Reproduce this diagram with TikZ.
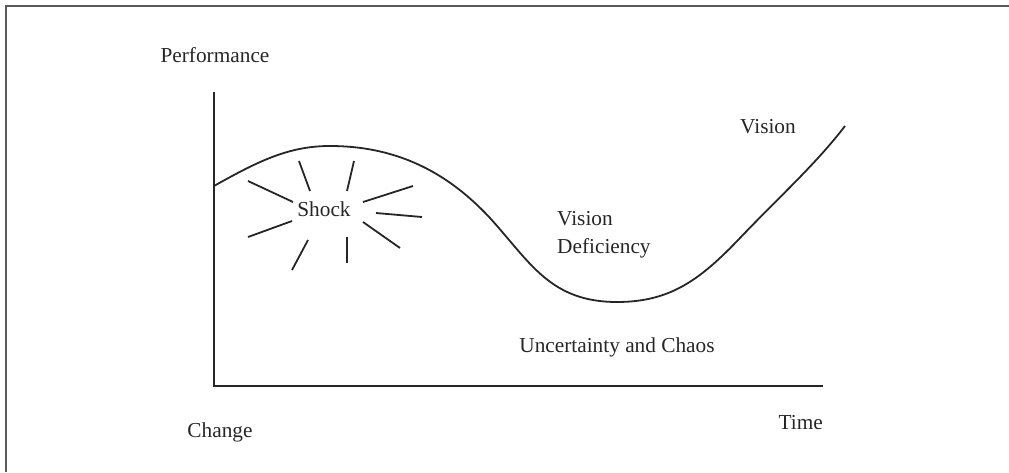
\documentclass[tikz,border=0pt]{standalone}
\usepackage{fontspec}
\setmainfont{Liberation Serif}
\usetikzlibrary{positioning}

\tikzset{
  lbl/.style={inner sep=0pt,anchor=base,font=\fontsize{21.3}{25}\selectfont,text=black!85},
  axis/.style={line width=2pt,black!85},
  ray/.style={line width=1.8pt,black!85}
}

\begin{document}
\begin{tikzpicture}[x=1pt,y=-1pt]
  \useasboundingbox (0,0) rectangle (1009,472);
  % page frame
  \draw[line width=2pt,black!65] (6,472) -- (6,6) -- (1009,6);

  % axes
  \coordinate (top) at (214,92);
  \coordinate (origin) at (214,386);
  \coordinate (tend) at (823,386);
  \draw[axis] (top) -- (origin) -- (tend);

  \node[lbl] (perf) at (215,62) {Performance};
  \node[lbl] (change) at (220,437) {Change};
  \node[lbl,anchor=base east] (time) at (823,429) {Time};

  % performance curve
  \coordinate (start) at (214,186);
  \coordinate (peak) at (330,146);
  \coordinate (fall) at (490,218);
  \coordinate (low) at (617,302);
  \coordinate (rise) at (740,238);
  \coordinate (stop) at (845,126);
  \draw[line width=1.8pt,black!85]
    (start) .. controls (260,160) and (290,146) .. (peak)
            .. controls (400,146) and (450,175) .. (fall)
            .. controls (530,262) and (550,302) .. (low)
            .. controls (670,302) and (700,280) .. (rise)
            .. controls (780,196) and (815,165) .. (stop);

  \node[lbl] (shock) at (324,216) {Shock};
  \node[lbl] (vision) at (768,133) {Vision};
  \node[lbl,anchor=base west] (vis) at (557,225) {Vision};
  \node[lbl,below=28pt of vis.base west,anchor=base west] (defic) {Deficiency};
  \node[lbl] (chaos) at (617,352) {Uncertainty and Chaos};

  % burst round the shock
  \foreach \xa/\ya/\xb/\yb in {248/181/293/202, 299/161/310/191, 354/161/347/191,
      363/202/413/186, 376/213/422/217, 363/222/400/248, 347/237/347/263,
      308/240/292/270, 292/221/248/237}
    \draw[ray] (\xa,\ya) -- (\xb,\yb);
\end{tikzpicture}
\end{document}
